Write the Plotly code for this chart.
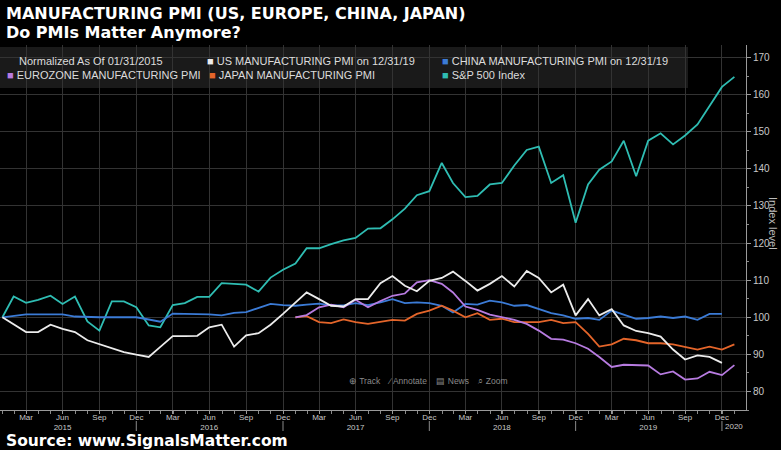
import pandas as pd
import plotly.graph_objects as go

# ---------------- data ----------------
months = pd.date_range(start="2015-01-31", periods=61, freq=pd.offsets.MonthEnd())

sp500 = [100.0, 105.6, 103.9, 104.7, 105.8, 103.6, 105.6, 98.9, 96.4, 104.3,
         104.3, 102.7, 97.8, 97.3, 103.3, 103.8, 105.5, 105.5, 109.2, 108.9,
         108.8, 106.9, 110.7, 112.8, 114.5, 118.6, 118.6, 119.7, 120.7, 121.4,
         123.9, 124.0, 126.4, 129.3, 132.9, 134.0, 141.6, 136.2, 132.4, 132.7,
         135.8, 136.2, 140.9, 145.1, 146.0, 136.2, 138.3, 125.5, 135.8, 139.8,
         142.0, 147.6, 138.0, 147.6, 149.6, 146.6, 149.0, 152.0, 156.9, 162.1,
         164.8]

us_pmi = [100.0, 98.1, 96.0, 96.0, 98.0, 96.9, 96.0, 93.8, 92.7, 91.7,
          90.6, 89.9, 89.3, 92.0, 94.9, 94.9, 95.0, 97.3, 98.0, 92.1,
          95.1, 95.7, 98.0, 100.9, 104.0, 106.7, 104.9, 103.1, 102.9, 104.9,
          104.9, 109.2, 111.1, 108.5, 107.0, 109.8, 110.6, 112.3, 109.8, 107.2,
          109.0, 111.1, 108.3, 112.5, 110.6, 106.7, 108.8, 100.5, 104.9, 100.5,
          102.2, 97.8, 96.3, 95.7, 94.8, 91.3, 88.6, 89.7, 89.3, 87.7,
          None]

china_pmi = [100.0, 100.3, 100.8, 100.8, 100.8, 100.8, 100.2, 100.0, 100.0, 100.0,
             100.0, 100.0, 99.4, 98.8, 101.0, 101.0, 100.9, 100.8, 100.5, 101.2,
             101.4, 102.6, 103.6, 103.3, 103.1, 103.4, 103.7, 103.2, 103.2, 103.8,
             103.3, 104.0, 104.9, 103.8, 104.0, 103.8, 103.1, 101.3, 103.6, 103.4,
             104.5, 104.0, 103.1, 103.3, 102.2, 101.1, 100.5, 99.6, 99.8, 99.3,
             101.8, 100.7, 99.6, 99.8, 100.2, 99.8, 100.2, 99.3, 100.9, 100.9,
             None]

eurozone_pmi = [None] * 24 + [
    100.0, 100.6, 102.7, 103.4, 102.7, 104.7, 102.7, 104.4, 105.8, 106.4,
    109.4, 110.0, 109.0, 106.7, 102.9, 102.0, 100.7, 100.0, 99.3, 98.2,
    96.4, 94.2, 94.0, 93.0, 91.5, 89.3, 86.6, 87.2, 87.1, 87.0,
    84.6, 85.4, 83.2, 83.5, 85.3, 84.4, 87.1]

japan_pmi = [None] * 24 + [
    100.0, 100.3, 98.7, 98.4, 99.4, 98.7, 98.2, 98.8, 99.3, 99.1,
    100.9, 101.8, 103.1, 101.8, 100.0, 101.1, 99.3, 99.6, 98.7, 98.7,
    98.7, 99.3, 98.4, 98.7, 95.5, 92.1, 92.7, 94.2, 93.8, 93.0,
    93.0, 92.7, 92.1, 91.3, 92.1, 91.3, 92.7]

series_names = ["US MANUFACTURING PMI on 12/31/19",
                "CHINA MANUFACTURING PMI on 12/31/19",
                "EUROZONE MANUFACTURING PMI",
                "JAPAN MANUFACTURING PMI",
                "S&P 500 Index"]
series_colors = ["#ececec", "#3b7bd6", "#b77be0", "#e4652a", "#2fbdb3"]

tick_dates = ["2015-03-31", "2015-06-30", "2015-09-30", "2015-12-31",
              "2016-03-31", "2016-06-30", "2016-09-30", "2016-12-31",
              "2017-03-31", "2017-06-30", "2017-09-30", "2017-12-31",
              "2018-03-31", "2018-06-30", "2018-09-30", "2018-12-31",
              "2019-03-31", "2019-06-30", "2019-09-30", "2019-12-31"]
tick_text = ["Mar", "Jun<br>2015", "Sep", "Dec",
             "Mar", "Jun<br>2016", "Sep", "Dec",
             "Mar", "Jun<br>2017", "Sep", "Dec",
             "Mar", "Jun<br>2018", "Sep", "Dec",
             "Mar", "Jun<br>2019", "Sep", "Dec"]
year_ends = ["2015-12-31", "2016-12-31", "2017-12-31", "2018-12-31", "2019-12-31"]
y_ticks = [80, 90, 100, 110, 120, 130, 140, 150, 160, 170]

# ---------------- geometry helpers ----------------
W, H = 781, 450
ML, MR, MT, MB = 0, 35, 45, 40
PW, PH = W - ML - MR, H - MT - MB


def px(x):
    return (x - ML) / PW


def py(y):
    return (H - MB - y) / PH


fig = go.Figure()
all_series = [us_pmi, china_pmi, eurozone_pmi, japan_pmi, sp500]
for k in [4, 1, 3, 2, 0]:
    fig.add_trace(go.Scatter(
        x=months, y=all_series[k], mode="lines", name=series_names[k],
        line=dict(color=series_colors[k], width=1.8),
        connectgaps=False, showlegend=False))

font_ui = "Liberation Sans, Arial, sans-serif"
font_bold = "DejaVu Sans, Verdana, sans-serif"

annotations = []
# titles
annotations.append(dict(text="<b>MANUFACTURING PMI (US, EUROPE, CHINA, JAPAN)</b>",
                        x=px(4), y=py(13.5), xref="paper", yref="paper",
                        xanchor="left", yanchor="middle", showarrow=False,
                        font=dict(family=font_bold, size=16, color="#ffffff")))
annotations.append(dict(text="<b>Do PMIs Matter Anymore?</b>",
                        x=px(4), y=py(32), xref="paper", yref="paper",
                        xanchor="left", yanchor="middle", showarrow=False,
                        font=dict(family=font_bold, size=16, color="#ffffff")))
annotations.append(dict(text="<b>Source: www.SignalsMatter.com</b>",
                        x=px(4), y=py(441), xref="paper", yref="paper",
                        xanchor="left", yanchor="middle", showarrow=False,
                        font=dict(family=font_bold, size=15.5, color="#ffffff")))

# legend block
leg_font = dict(family=font_ui, size=11, color="#dcdcdc")


def sq(c):
    return "<span style='color:%s'>■</span> " % c


legend_items = [
    (17, 61, "Normalized As Of 01/31/2015"),
    (205, 61, sq(series_colors[0]) + series_names[0]),
    (440, 61, sq(series_colors[1]) + series_names[1]),
    (5, 75, sq(series_colors[2]) + series_names[2]),
    (207, 75, sq(series_colors[3]) + series_names[3]),
    (440, 75, sq(series_colors[4]) + series_names[4]),
]
for lx, ly, t in legend_items:
    annotations.append(dict(text=t, x=px(lx), y=py(ly), xref="paper", yref="paper",
                            xanchor="left", yanchor="middle", showarrow=False,
                            font=leg_font))

# toolbar overlay
annotations.append(dict(text="⊕ Track    ∕ Annotate    ▤ News    ⌕ Zoom",
                        x=px(428), y=py(381), xref="paper", yref="paper",
                        xanchor="center", yanchor="middle", showarrow=False,
                        font=dict(family=font_ui, size=8.5, color="#8a8a8a")))

# axis title on right
annotations.append(dict(text="Index level", x=px(773), y=py(224),
                        xref="paper", yref="paper", textangle=90,
                        xanchor="center", yanchor="middle", showarrow=False,
                        font=dict(family=font_ui, size=11, color="#bdbdbd")))
# 2020 year label
annotations.append(dict(text="2020", x="2020-01-31", y=py(426.5), xref="x", yref="paper",
                        xanchor="center", yanchor="middle", showarrow=False,
                        font=dict(family=font_ui, size=8, color="#c8c8c8")))

shapes = [dict(type="rect", xref="paper", yref="paper",
               x0=px(0), x1=px(688), y0=py(88), y1=py(47),
               fillcolor="#1c1c1c", line=dict(width=0), layer="between", opacity=0.92)]
for d in year_ends:
    shapes.append(dict(type="line", xref="x", yref="paper", x0=d, x1=d,
                       y0=py(421), y1=py(431), line=dict(color="#8a8a8a", width=1)))

fig.update_layout(
    width=W, height=H,
    margin=dict(l=ML, r=MR, t=MT, b=MB, autoexpand=False),
    paper_bgcolor="#000000", plot_bgcolor="#000000",
    annotations=annotations, shapes=shapes,
    showlegend=False,
    xaxis=dict(type="date", range=["2015-01-25", "2020-02-29"],
               tickmode="array", tickvals=tick_dates, ticktext=tick_text,
               tickfont=dict(family=font_ui, size=8, color="#c8c8c8"),
               ticklabelstandoff=-4,
               showgrid=True, gridcolor="#333333", gridwidth=1,
               showline=True, linecolor="#9a9a9a", linewidth=1,
               ticks="outside", ticklen=3, tickcolor="#9a9a9a",
               minor=dict(dtick="M1", ticks="outside", ticklen=3,
                          tickcolor="#8a8a8a", showgrid=False),
               zeroline=False, fixedrange=True, automargin=False),
    yaxis=dict(side="right", range=[75, 173.4],
               tickmode="array", tickvals=y_ticks,
               tickfont=dict(family=font_ui, size=10, color="#c8c8c8"),
               showgrid=True, gridcolor="#333333", gridwidth=1,
               showline=True, linecolor="#9a9a9a", linewidth=1,
               ticks="outside", ticklen=4, tickcolor="#9a9a9a",
               minor=dict(dtick=5, tick0=75, ticks="outside", ticklen=2,
                          tickcolor="#8a8a8a", showgrid=False),
               zeroline=False, fixedrange=True, automargin=False),
)

fig.write_html("out.html", config={"displayModeBar": False},
               post_script="document.body.style.margin='0';document.body.style.background='#000';")
